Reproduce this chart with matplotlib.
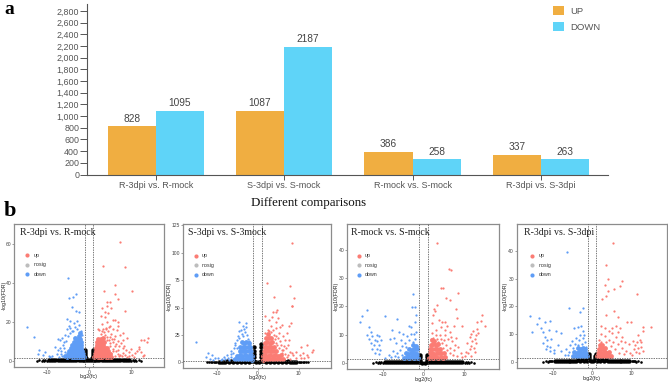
import matplotlib
matplotlib.use("Agg")
import matplotlib.pyplot as plt
from matplotlib.ticker import FuncFormatter

W, H = 668, 383

categories = ["R-3dpi vs. R-mock", "S-3dpi vs. S-mock", "R-mock vs. S-mock", "R-3dpi vs. S-3dpi"]
up_counts = [828, 1087, 386, 337]
down_counts = [1095, 2187, 258, 263]
bar_yticks = list(range(0, 3000, 200))

# volcano points as (log2fc, -log10fdr)
p1_up = [(7.5,60.7),(3.3,48.4),(8.5,48),(6.2,39),(3.6,35.5),(10.2,35.5),(6.2,34),(7.0,31.6),(4.4,30),(5.0,30),
         (4.3,28),(3.0,27),(5.2,27),(8.5,25.3),(3.7,25),(4.6,24.5),(2.8,23),(3.8,22.5),(5.7,21),(6.3,20.8),
         (6.8,20),(4.2,19.8),(3.1,19),(5,18),(7,18),(4.1,17),(5.6,16),(6.7,15.5),(8,14),(7.4,13),
         (6.1,12.8),(5.2,13.7),(4.5,15),(3.4,16.5),(2.5,15.5),(2.8,13.5),(3.9,13),(9,11.6),(12.5,10.8),(13.2,10.8),
         (14,11.8),(13.8,9.8),(8.2,10.5),(10.1,6),(11.8,7),(11.5,5.2),(12,6.2),(12.3,4.5),(11,4),(10.3,3),
         (9.6,4.5),(8.9,5.5),(8,6.3),(7.2,7.5),(6.5,8.5),(7,5.5),(8,4),(5.8,6),(6.4,4.8),(5,7.5),
         (5.6,9.5),(6,11),(4.8,10.5),(5.3,4),(7.5,3),(9.5,2.5),(13,3),(12.8,2.2),(10.8,2.1),(4.4,12.2),
         (3.6,14.6),(4.9,12.4),(5.4,11.2),(4.3,10.6),(5.1,9),(6.1,7.6),(5.6,5.2),(6.8,3.4),(6.1,2.4),(7.1,2.2),
         (7.9,2.5),(8.6,3),(9,2),(8.4,7.8),(7.6,9),(6.9,10),(2.2,16.4),(3,15.4),(4,16),(4.7,17.2)]
p1_up_dense = [(1.3,2),(1.7,2.2),(2.1,1.9),(2.6,2.1),(3.1,2),(3.6,2.2),(4.1,1.9),(4.6,2.1),(5.2,2),(1.4,3.5),
               (1.9,3.6),(2.3,3.4),(2.8,3.6),(3.3,3.5),(3.8,3.4),(4.3,3.6),(4.9,3.5),(1.6,5),(2.0,5.1),(2.5,4.9),(3,5.1),
               (3.5,5),(4,5.2),(4.6,5),(1.7,6.5),(2.2,6.6),(2.7,6.4),(3.2,6.6),(3.7,6.5),(4.2,6.6),(1.9,8),(2.4,8.1),(2.9,7.9),
               (3.4,8.1),(2.0,9.5),(2.5,9.6),(3,9.4),(3.6,9.6),(2.2,11),(2.8,11.1),(3.3,11.5)]
p1_down = [(-4.9,42.6),(-3.1,34.4),(-3.7,32.8),(-4.7,32.3),(-4.1,27.7),(-3.2,25.5),(-2.5,24.8),(-5.3,21.4),(-4.5,20.3),(-2.8,20.3),
           (-14.8,17.4),(-13,12),(-7.5,11),(-6.9,10.8),(-11.8,5.5),(-10.4,4.6),(-12.2,3.2),(-11,2.9),(-8,7.2),(-7.3,5.5),
           (-6.1,8),(-5.7,4.6),(-3.6,19.2),(-4.8,18),(-2.4,18.2),(-3.3,17.2),(-5.2,16.4),(-2.9,16),(-4.1,15.2),(-5.8,13.2),
           (-6.4,11.5),(-5,12.6),(-9.6,2.6),(-8.8,2.2),(-9.2,1.9),(-7.6,3.2),(-6.6,3.5),(-5.9,6.4),(-6.8,6.6),(-4.6,14.3),
           (-3.8,15.4),(-4.5,16.6),(-5.4,10),(-5.9,9.6),(-6.4,2.4),(-7.1,2.1),(-5.6,2.6),(-6.6,5),(-1.9,15.4),(-1.7,13.4)]
p1_down_dense = [(-1.3,2),(-1.7,2.1),(-2.1,1.9),(-2.6,2.1),(-3.1,2),(-3.6,2.1),(-4.1,1.9),(-4.7,2.2),(-5.2,2.1),(-5.6,2.3),(-1.4,3.5),
                 (-1.9,3.6),(-2.4,3.4),(-2.9,3.6),(-3.4,3.5),(-3.9,3.4),(-4.4,3.6),(-5,3.6),(-1.6,5),(-2.1,5.1),(-2.6,4.9),(-3.1,5.1),
                 (-3.6,5),(-4.1,5.2),(-4.7,5),(-1.8,6.5),(-2.3,6.6),(-2.8,6.4),(-3.3,6.6),(-3.8,6.5),(-4.4,6.6),(-1.9,8),(-2.4,8.1),(-2.9,7.9),
                 (-3.4,8.1),(-4,8),(-2.0,9.5),(-2.5,9.6),(-3,9.4),(-3.6,9.6),(-2.1,11),(-2.7,11.1),(-2.4,12.6),(-3.3,11.4),(-2.2,14)]
p1_black = [(-9,0.2),(-8,0.2),(-7,0.3),(-6,0.3),(-5,0.3),(-4,0.3),(-3,0.4),(-2,0.4),(-1.2,0.5),
            (-9.5,0.4),(-8.5,0.4),(-7.5,0.4),(-6.5,0.5),(-5.5,0.5),(-4.5,0.5),(-3.5,0.5),(-2.5,0.5),(-1.5,0.6),
            (-0.8,0.6),(-0.8,1.5),(-0.85,2.5),(-0.85,3.5),(-0.9,4.5),(-0.9,5.5),(-0.3,0.2),
            (0.3,0.2),(0.8,0.6),(0.8,1.5),(0.85,2.5),(0.85,3.5),(0.9,4.5),(0.9,5.5),
            (1.2,0.5),(2,0.4),(3,0.4),(4,0.3),(5,0.3),(6,0.3),(7,0.3),(8,0.2),(9,0.2),
            (1.5,0.6),(2.5,0.5),(3.5,0.5),(4.5,0.5),(5.5,0.5),(6.5,0.5),(7.5,0.4),(8.5,0.4),(9.5,0.4)]

p2_up = [(8.5,109),(2.2,72.6),(7.9,69.5),(4,60),(8.8,58.5),(8.3,51.8),(8.5,51.5),(4.8,47.6),(4.4,46.3),(3.7,46.3),
         (1.8,42.4),(3.6,41),(4.9,40),(2.8,38.7),(4.6,37),(5.9,34),(8.1,35.7),(7.6,33.5),(5.4,32.6),(2.6,29.6),
         (3.8,29.6),(7.1,27),(1.8,26.5),(3.3,27.5),(6.7,20.4),(7.6,20.4),(5.4,19),(4.6,18),(7.5,16),(12,16),
         (13.6,11.3),(13.2,9.8),(10.7,14.3),(9.5,9.8),(11.1,8.2),(12,6.7),(10.3,6.7),(12.4,5.2),(8.7,6.7),(7.9,9.8),
         (6.3,11.3),(5.9,8.2),(7.1,5.2),(9.4,4.2),(11.4,4),(10.6,3.6),(8,3.4),(6.4,14.6),(5.2,13),(6.8,8),
         (4.4,24.2),(5,22),(6.2,24),(4.8,16),(5.6,15.6),(6,11),(6.9,12.6),(7.4,7),(8.3,8.4),(4.2,21),
         (3.9,24.8),(2.9,28.2),(3.4,33),(5.2,27),(4.6,31)]
p2_up_dense = [(1.3,2.5),(1.8,3),(2.3,2.6),(2.9,3),(3.5,2.6),(4.1,3),(4.8,2.7),(5.5,3),(6.2,2.7),(1.4,6),
               (1.9,6.4),(2.5,6),(3.1,6.3),(3.7,6),(4.3,6.2),(5,5.9),(5.6,6.2),(1.5,10),(2,10.3),(2.6,9.9),
               (3.2,10.2),(3.8,9.9),(4.4,10.1),(1.7,14),(2.2,14.3),(2.8,13.9),(3.4,14.2),(4,14),(1.9,18),(2.4,18.3),
               (3,17.9),(3.5,18.1),(2.1,22),(2.7,22.2),(3.2,21.9),(2.5,25.6)]
p2_down = [(-4.6,37),(-2.8,35.7),(-3.5,33),(-2.7,32),(-3.3,30.5),(-4.1,29.6),(-3.1,28),(-4.5,28.7),(-15.1,18.9),(-12,8.2),
           (-11.2,6.7),(-10.4,4.3),(-11.6,3),(-10.8,2.1),(-9.6,3.7),(-8.6,3.2),(-7.2,3.7),(-6.6,5.2),(-5.9,8.2),(-5.1,20.4),
           (-5.5,15.9),(-4.6,22),(-3.9,26),(-2.6,25),(-4.9,12.6),(-6.4,10),(-7.4,6.6),(-9,2.4),(-7.9,2.6),(-8.2,4.4),(-5.8,13.4),(-12.6,4.6),
           (-6.1,2.6),(-6.9,2.2),(-6.6,7.4),(-5.4,18),(-4.8,24),(-3.5,24.4),(-2.4,21.4),(-2,19)]
p2_down_dense = [(-1.3,2.5),(-1.8,3),(-2.3,2.6),(-2.9,3),(-3.5,2.6),(-4.1,3),(-4.8,2.7),(-5.4,3),(-1.4,6),(-1.9,6.4),
                 (-2.5,6),(-3.1,6.3),(-3.7,6),(-4.3,6.2),(-5,5.9),(-1.6,10),(-2.1,10.3),(-2.7,9.9),(-3.3,10.2),(-3.9,9.9),
                 (-4.4,10.1),(-1.9,14),(-2.4,14.3),(-3,13.9),(-3.6,14.2),(-4.2,14),(-2.2,18),(-2.8,18.2),(-3.4,17.9),(-3.9,18.4)]
p2_black = [(-9,0.3),(-8,0.4),(-7,0.4),(-6,0.5),(-5,0.5),(-4,0.6),(-3,0.6),(-2,0.7),(-1.2,0.8),
            (-9.5,0.6),(-8.5,0.7),(-7.5,0.8),(-6.5,0.9),(-5.5,0.9),(-4.5,1),(-3.5,1),(-2.5,1.1),(-1.5,1.1),
            (-0.8,1.5),(-0.85,4.5),(-0.85,7.5),(-0.9,10.5),(-0.9,13.5),(-0.3,0.4),
            (0.3,0.4),(0.8,1.5),(0.85,4.5),(0.85,7.5),(0.9,10.5),(0.9,13.5),(0.95,16.5),
            (1.2,0.8),(2,0.7),(3,0.6),(4,0.6),(5,0.5),(6,0.5),(7,0.4),(8,0.4),(9,0.3),
            (1.5,1.1),(2.5,1.1),(3.5,1),(4.5,1),(5.5,0.9),(6.5,0.9),(7.5,0.8),(8.5,0.7),(9.5,0.6)]

p3_up = [(3.2,42.3),(6.3,33.3),(6.8,32.8),(4.2,26.5),(4.8,26.3),(5.6,23),(6.5,22.3),(8.6,24.7),(2.5,19.2),(2.8,18.3),
         (3.3,20.6),(8.1,19),(14.5,16.9),(14.1,14.9),(15.1,13.1),(13.2,14.3),(13.2,12),(12.2,11.3),(12.9,9.8),(11.4,9.3),
         (2.4,17),(2.2,14),(3.8,15),(4.6,14.5),(5.2,14.5),(4.3,12.6),(5.9,13),(6.6,11),(8.3,16),(7.6,13.2),
         (9.6,13),(3,11.6),(2,10.6),(4,9.8),(5.2,10),(6,8.6),(7,7.6),(8,9),(3.2,8.4),(2.6,7.2),
         (4.6,7),(5.6,6.4),(6.6,5.4),(7.6,4.6),(8.6,5.8),(9.2,3.4),(12.6,8.6),(12,7.6),(13,7),(11.8,6),
         (12.4,5.2),(11.4,5),(12.8,4),(11,3.6),(10.4,3.8),(10.2,2.4),(9.4,2),(11.6,2.6),(10.8,7),(13.4,10.6),(11.8,10.4),
         (1.8,8.6),(2.4,9),(3.6,7.4),(4.2,8.4),(5,8.2),(5.8,4.6),(6.4,3.4),(7.2,3),(7.8,6.2),(8.2,2.6),(3,10),(4.8,5.4),(5.4,11.6),(6.8,9.2)]
p3_up_dense = [(1.3,1.8),(1.8,2),(2.4,1.8),(3,2),(3.6,1.8),(4.2,2),(4.8,1.9),(5.4,2),(1.5,3.4),(2,3.5),(2.6,3.3),
               (3.2,3.5),(3.8,3.4),(4.4,3.5),(5,3.4),(1.6,5),(2.2,5.1),(2.8,4.9),(3.4,5),(4,5),(1.8,6.4),(2.4,6.6),(3,6.4),(3.6,6.6),
               (2,8),(2.6,7.8)]
p3_down = [(-2.7,24.2),(-2.8,19.8),(-2.1,19.7),(-14,18.6),(-15.1,16.6),(-9.6,16.6),(-15.6,14.3),(-13.5,12.8),(-6.5,15.5),(-1.9,16.9),
           (-2.2,14.5),(-3,12.8),(-3.6,13),(-7.8,11.8),(-6,11),(-5,10.4),(-4,9.6),(-2.4,10.4),(-13,10.8),(-14,10),
           (-12.6,9.6),(-11.6,10),(-11,9.4),(-13.4,8.6),(-12,8.2),(-11.4,7.8),(-10.6,8),(-13,7),(-12.2,6.4),(-11,6.2),
           (-12.6,5),(-11.6,4.8),(-10.8,4.6),(-12,3.6),(-11,3.2),(-8.2,8.6),(-7.4,8.8),(-6.8,7),(-5.6,8),(-4.6,7.2),
           (-5.2,6),(-3.6,8),(-2.6,7.4),(-7.6,4.4),(-8.6,3),(-6.6,3.6),(-9.4,1.8),(-8,2),(-7,2.4),
           (-5.8,4.6),(-3.2,10.2),(-4.4,5.6),(-2,8.6),(-1.8,11),(-6.2,2.2),(-5.4,2.8)]
p3_down_dense = [(-1.3,1.9),(-1.8,2),(-2.4,1.9),(-3,2),(-3.6,1.9),(-4.2,2),(-4.8,1.9),(-1.5,3.3),(-2,3.4),(-2.6,3.3),
                 (-3.2,3.4),(-3.8,3.2),(-4.4,3.4),(-1.7,4.8),(-2.3,4.9),(-2.9,4.7),(-3.5,4.8),(-1.9,6),(-2.5,6.2)]
p3_black = [(-9,0.2),(-8,0.2),(-7,0.2),(-6,0.3),(-5,0.2),(-4,0.3),(-3,0.3),(-2,0.3),(-1.2,0.3),
            (-9.5,0.3),(-8.5,0.3),(-7.5,0.4),(-6.5,0.4),(-5.5,0.4),(-4.5,0.4),(-3.5,0.5),(-2.5,0.5),(-1.5,0.5),
            (-0.8,0.5),(-0.8,1.2),(-0.85,2),(-0.9,2.8),(-0.3,0.1),
            (0.3,0.1),(0.8,0.5),(0.8,1.2),(0.85,2),(0.9,2.8),
            (1.2,0.3),(2,0.3),(3,0.3),(4,0.3),(5,0.2),(6,0.3),(7,0.2),(8,0.2),(9,0.2),
            (1.5,0.5),(2.5,0.5),(3.5,0.5),(4.5,0.4),(5.5,0.4),(6.5,0.4),(7.5,0.4),(8.5,0.3),(9.5,0.3)]

p4_up = [(5.3,42.9),(3.5,35),(4,29.8),(7.6,29.3),(3.4,27.6),(5.6,26.4),(7.2,27.2),(11.4,24.5),(4.1,25.4),(3.6,23.8),
         (2.5,22.6),(5.6,18.2),(3.6,17),(6.6,16.2),(9,14.4),(10,14.2),(13.1,12.4),(14.9,12.4),(13,11),(11.6,9.8),
         (2.4,13),(3.4,12),(4.4,11),(5,10.4),(6.2,13),(7.2,12),(6,9),(7.6,9),(8.4,7),(2.4,10),
         (3.2,9.4),(4.2,8),(5.4,7.2),(6.6,6.4),(7.6,5),(8.6,4),(9.6,3.2),(12.2,8),(11.4,7),(12.6,7),
         (11,6),(11.8,5),(12.4,5.4),(10.6,4.6),(11.2,3.6),(12,3),(10.2,2.4),(13,3.8),(10.4,7.4),(9.4,6.2),
         (1.8,8),(4.8,5.6),(5.8,4.4),(6.8,3.2),(3.6,7),(2.2,7.2),(7.4,7.4),(8.2,2.6),(5.2,12.2),(6.6,10.6)]
p4_up_dense = [(1.3,1.9),(1.8,2),(2.4,1.9),(3,2),(3.6,1.9),(4.2,2),(4.8,2),(1.5,3.3),(2.1,3.4),(2.7,3.2),(3.3,3.4),
               (3.9,3.3),(4.4,3.4),(1.7,4.7),(2.3,4.8),(2.9,4.6),(3.4,4.8),(1.9,6),(2.5,6)]
p4_down = [(-6.3,39.6),(-5.8,19.4),(-2.3,19.2),(-3,17.8),(-15.9,16.4),(-13.4,15.8),(-13.9,13.6),(-10.6,14.6),(-12,14.4),(-15.4,10.6),
           (-12.9,12.2),(-12.6,10.6),(-11,11.6),(-9.2,11),(-8,10.4),(-3.6,12.4),(-2.8,13),(-4.6,12),(-2.4,11),(-12,9),
           (-11.4,8),(-10.4,8.2),(-12.4,6.6),(-11.6,5.6),(-10.6,5.4),(-11.8,4.4),(-10.8,4),(-9.8,4.2),(-9.6,3),(-8.6,6),
           (-7.8,4),(-6.6,4.4),(-5.6,6),(-5,7.6),(-4.2,8.4),(-3.4,7.8),(-2.2,8.4),(-1.8,7),(-4.8,5),(-5.8,3.4),(-7,2.4),(-3.6,6),(-2.6,6.2),
           (-4.4,6.4),(-3,9.6),(-2,9.8),(-1.6,5.4),(-6.2,2.4)]
p4_down_dense = [(-1.3,1.9),(-1.8,2),(-2.4,1.9),(-3,2),(-3.6,1.9),(-4.2,2),(-4.8,2),(-1.5,3.3),(-2.1,3.4),(-2.7,3.2),
                 (-3.3,3.4),(-3.9,3.3),(-4.5,3.4),(-1.7,4.7),(-2.3,4.8),(-2.9,4.6),(-3.5,4.8)]
p4_black = [(-9,0.2),(-8,0.2),(-7,0.2),(-6,0.3),(-5,0.2),(-4,0.3),(-3,0.3),(-2,0.3),(-1.2,0.3),
            (-9.5,0.3),(-8.5,0.3),(-7.5,0.4),(-6.5,0.4),(-5.5,0.4),(-4.5,0.4),(-3.5,0.5),(-2.5,0.5),(-1.5,0.5),
            (-0.8,0.5),(-0.8,1.2),(-0.85,2),(-0.9,2.6),(-0.3,0.1),
            (0.3,0.1),(0.8,0.5),(0.8,1.2),(0.85,2),(0.9,2.6),
            (1.2,0.3),(2,0.3),(3,0.3),(4,0.3),(5,0.2),(6,0.3),(7,0.2),(8,0.2),(9,0.2),
            (1.5,0.5),(2.5,0.5),(3.5,0.5),(4.5,0.4),(5.5,0.4),(6.5,0.4),(7.5,0.4),(8.5,0.3),(9.5,0.3)]
# thin ends of the black band, same in every panel
black_tail = [(-12.4,0),(-11.8,0.2),(-11.3,0),(-11,0.4),(-10.7,0.1),(-10.4,0.4),(-10.1,0.1),
              (10.1,0.1),(10.4,0.4),(10.7,0.1),(11,0.4),(11.3,0),(11.8,0.2),(12.4,0)]

ORANGE = "#F0AE41"
CYAN = "#5FD4F8"
RED = "#FB7C74"
BLUE = "#5F9DF6"
GRAY = "#8c8c8c"
SANS = "Liberation Sans"
SERIF = "Liberation Serif"

fig = plt.figure(figsize=(W / 100, H / 100), dpi=100)


def px_axes(left, top, right, bottom):
    return fig.add_axes([left / W, 1 - bottom / H, (right - left) / W, (bottom - top) / H])


def px_text(x, y, s, **kw):
    fig.text(x / W, 1 - y / H, s, **kw)


# panel a
ax = px_axes(87.3, 4, 608.3, 174.5)
xs = list(range(len(categories)))
w = 0.375
ax.bar([x - w / 2 for x in xs], up_counts, w, color=ORANGE, label="UP")
ax.bar([x + w / 2 for x in xs], down_counts, w, color=CYAN, label="DOWN")
for x, u, d in zip(xs, up_counts, down_counts):
    ax.text(x - w / 2, u + 45, str(u), ha="center", va="bottom", fontsize=7.3, color="#444444", family=SANS)
    ax.text(x + w / 2, d + 45, str(d), ha="center", va="bottom", fontsize=7.3, color="#444444", family=SANS)
ax.set_xlim(-0.533, 3.525)
ax.set_ylim(0, 2920)
ax.set_yticks(bar_yticks)
ax.yaxis.set_major_formatter(FuncFormatter(lambda v, p: f"{int(v):,}"))
ax.set_xticks(xs)
ax.set_xticklabels(categories)
for s in ["top", "right"]:
    ax.spines[s].set_visible(False)
for s in ["left", "bottom"]:
    ax.spines[s].set_color("#555555")
    ax.spines[s].set_linewidth(0.8)
ax.tick_params(axis="y", length=4.8, width=0.7, color="#555555", labelsize=6.4, labelcolor="#555555", pad=1)
ax.tick_params(axis="x", length=3.5, width=0.7, color="#555555", labelsize=6.5, labelcolor="#555555", pad=1.5)
for lab in ax.get_xticklabels() + ax.get_yticklabels():
    lab.set_family(SANS)
ax.legend(loc="upper left", bbox_to_anchor=(0.894, 0.988), frameon=False, prop={"family": SANS, "size": 6.8},
          handlelength=1.15, handleheight=1.15, handletextpad=0.7, labelspacing=0.62, labelcolor="#555555", borderpad=0, borderaxespad=0)

px_text(309, 203, "Different comparisons", ha="center", va="center", fontsize=9.3, family=SERIF, color="#111111")
px_text(4, 14, "a", ha="left", va="baseline", fontsize=14, fontweight="bold", family=SERIF)
px_text(4, 216, "b", ha="left", va="baseline", fontsize=16, fontweight="bold", family=SERIF)


def volcano(box, xlim, ylim, yticks, up, up_dense, down, down_dense, black, title, title_x, legend_x, ylab_px, xlab_px):
    a = px_axes(*box)
    a.scatter(*zip(*black), s=10, c="black", linewidths=0, zorder=2)
    a.scatter(*zip(*black_tail), s=3.5, c="black", linewidths=0, zorder=2)
    a.scatter(*zip(*up_dense), s=12, c=RED, linewidths=0, zorder=3)
    a.scatter(*zip(*down_dense), s=12, c=BLUE, linewidths=0, zorder=3)
    a.scatter(*zip(*up), s=2.6, c=RED, linewidths=0, zorder=3)
    a.scatter(*zip(*down), s=2.6, c=BLUE, linewidths=0, zorder=3)
    a.axvline(-1, color="#444444", lw=0.5, ls=(0, (2, 1.5)), zorder=4)
    a.axvline(1, color="#444444", lw=0.5, ls=(0, (2, 1.5)), zorder=4)
    a.axhline(1.3, color="#444444", lw=0.5, ls=(0, (2, 1.5)), zorder=4)
    a.set_xlim(*xlim)
    a.set_ylim(*ylim)
    a.set_xticks([-10, 0, 10])
    a.set_yticks(yticks)
    a.tick_params(length=1.5, width=0.4, color="#555555", labelsize=3.6, labelcolor="#444444", pad=0.5)
    a.set_xlabel("log2(fc)", fontsize=3.8, family=SANS, color="#222222", va="center")
    a.set_ylabel("-log10(FDR)", fontsize=3.8, family=SANS, color="#222222", va="center")
    a.xaxis.set_label_coords(0.5, (box[3] - xlab_px) / (box[3] - box[1]))
    a.yaxis.set_label_coords((ylab_px - box[0]) / (box[2] - box[0]), 0.5)
    for lab in a.get_xticklabels() + a.get_yticklabels():
        lab.set_family(SANS)
    for s in a.spines.values():
        s.set_color(GRAY)
        s.set_linewidth(0.9)
    handles = [a.scatter([], [], s=9, c=c, linewidths=0, label=l)
               for c, l in [(RED, "up"), ("#bdbdbd", "nosig"), (BLUE, "down")]]
    a.legend(handles=handles, loc="upper left", bbox_to_anchor=(legend_x, 0.8), frameon=False, borderpad=0, borderaxespad=0,
             prop={"family": SANS, "size": 3.8}, labelspacing=0.85, handletextpad=0.2, labelcolor="#333333")
    px_text(title_x, 232.5, title, ha="left", va="center", fontsize=7.1, family=SERIF, color="#222222", zorder=10)


volcano((14, 224, 164, 367), (-17.86, 17.86), (-3.2, 70), [0, 20, 40, 60],
        p1_up, p1_up_dense, p1_down, p1_down_dense, p1_black, "R-3dpi vs. R-mock", 20, 0.052, 4, 376.7)
volcano((183, 224.3, 331.3, 368.3), (-18.2, 18), (-5.5, 126), [0, 25, 50, 75, 100, 125],
        p2_up, p2_up_dense, p2_down, p2_down_dense, p2_black, "S-3dpi vs. S-3mock", 187.7, 0.05, 169.3, 378)
volcano((347.3, 224.3, 499, 369), (-18.8, 18.6), (-2.1, 48.9), [0, 10, 20, 30, 40],
        p3_up, p3_up_dense, p3_down, p3_down_dense, p3_black, "R-mock vs. S-mock", 350.7, 0.04, 336, 379)
volcano((516.7, 224.3, 667, 368.3), (-19.2, 19.1), (-2.4, 49.6), [0, 10, 20, 30, 40],
        p4_up, p4_up_dense, p4_down, p4_down_dense, p4_black, "R-3dpi vs. S-3dpi", 524, 0.07, 505.3, 378.3)

fig.savefig("out.png", dpi=100)
